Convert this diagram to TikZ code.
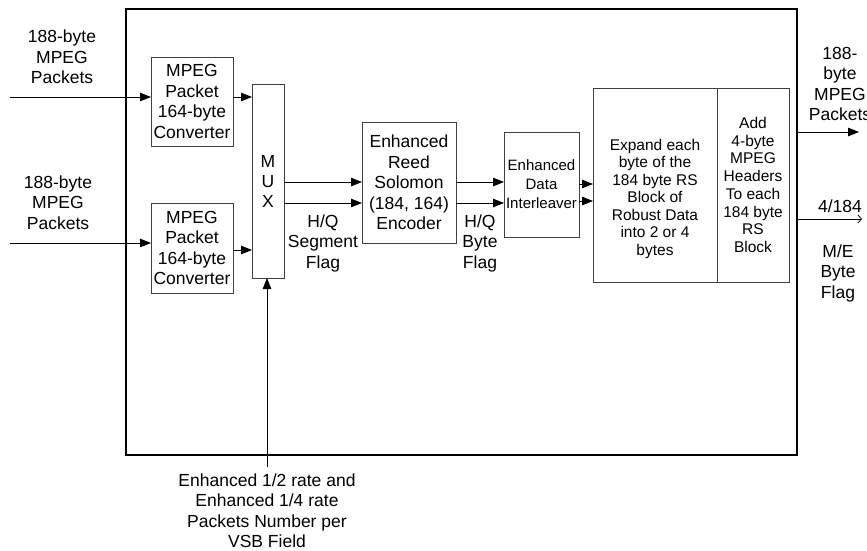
\documentclass[tikz,border=0pt]{standalone}
\usepackage{fontspec}
\setmainfont{Liberation Sans}
\usepackage{tikz}
\usetikzlibrary{arrows.meta}
\newcommand{\fsz}[2]{\fontsize{#1}{#2}\selectfont}

\tikzset{
  blk/.style={draw=black!75, line width=0.8pt, inner sep=1pt, outer sep=0pt,
    align=center, font=\fsz{17.5}{20.5}},
  lbl/.style={align=center, inner sep=0pt, font=\fsz{17.5}{20.5}},
  flow/.style={-{Triangle[length=11pt,width=8.5pt]}, line width=0.8pt},
  thin flow/.style={-{Straight Barb[length=3.5pt,width=8pt]}, line width=0.8pt}
}

\begin{document}
\begin{tikzpicture}[x=1pt, y=-1pt]
  \useasboundingbox (0,0) rectangle (867,550);

  % outer frame
  \node[draw, line width=1.8pt, minimum width=671, minimum height=446, inner sep=0pt]
    (frame) at (461.5,232) {};

  % blocks
  \node[blk, minimum width=82, minimum height=89] (conv1) at (192,101.5)
    {MPEG\\Packet\\164-byte\\Converter};
  \node[blk, minimum width=82, minimum height=90] (conv2) at (192,248)
    {MPEG\\Packet\\164-byte\\Converter};
  \node[blk, minimum width=32, minimum height=194, font=\fsz{17.5}{20}] (mux) at (268,181)
    {M\\U\\X};
  \node[blk, minimum width=94, minimum height=121] (rs) at (409,182.5)
    {Enhanced\\Reed\\Solomon\\(184, 164)\\Encoder};
  \node[blk, minimum width=75, minimum height=105, font=\fsz{15}{19}] (intl) at (541.5,184.5)
    {Enhanced\\Data\\Interleaver};
  \node[blk, minimum width=124, minimum height=194] (expand) at (655,185) {};
  \node[lbl, font=\fsz{15.5}{17.5}] (expandtxt) at (655,198.5)
    {Expand each\\byte of the\\184 byte RS\\Block of\\Robust Data\\into 2 or 4\\bytes};
  \node[blk, minimum width=72, minimum height=194, font=\fsz{15.5}{17.7}] (hdr) at (753,185)
    {Add\\4-byte\\MPEG\\Headers\\To each\\184 byte\\RS\\Block};

  % inputs
  \coordinate (in1) at (10,97);
  \coordinate (in2) at (10,243);
  \node[lbl] (in1lbl) at (62,57) {188-byte\\MPEG\\Packets};
  \node[lbl] (in2lbl) at (58,202.5) {188-byte\\MPEG\\Packets};
  \draw[flow] (in1) -- (in1 -| conv1.west);
  \draw[flow] (in2) -- (in2 -| conv2.west);
  \draw[flow] (conv1.east |- in1) -- (in1 -| mux.west);
  \draw[flow] (conv2.east |- 0,250) -- (mux.west |- 0,250);

  % mux -> encoder -> interleaver -> expand
  \foreach \y in {182,203} {
    \draw[flow] (mux.east |- 0,\y) -- (rs.west |- 0,\y);
    \draw[flow] (rs.east |- 0,\y) -- (intl.west |- 0,\y);
  }
  \foreach \y in {184,201}
    \draw[flow] (intl.east |- 0,\y) -- (expand.west |- 0,\y);
  \node[lbl] (segflag) at (323,243) {H/Q\\Segment\\Flag};
  \node[lbl] (byteflag) at (480,243) {H/Q\\Byte\\Flag};

  % outputs
  \coordinate (out1) at (859,132);
  \coordinate (out2) at (862,219);
  \draw[flow] (out1 -| frame.east) -- (out1);
  \draw[thin flow] (out2 -| frame.east) -- (out2);
  \node[lbl] (out1lbl) at (840,84) {188-\\byte\\MPEG\\Packets};
  \node[lbl] (ratio) at (840,206) {4/184};
  \node[lbl] (meflag) at (838,273) {M/E\\Byte\\Flag};

  % packet count input
  \coordinate (vsb) at (267,467);
  \draw[flow] (vsb) -- (vsb |- mux.south);
  \node[lbl] (vsblbl) at (267,510.5)
    {Enhanced 1/2 rate and\\Enhanced 1/4 rate\\Packets Number per\\VSB Field};
\end{tikzpicture}
\end{document}
